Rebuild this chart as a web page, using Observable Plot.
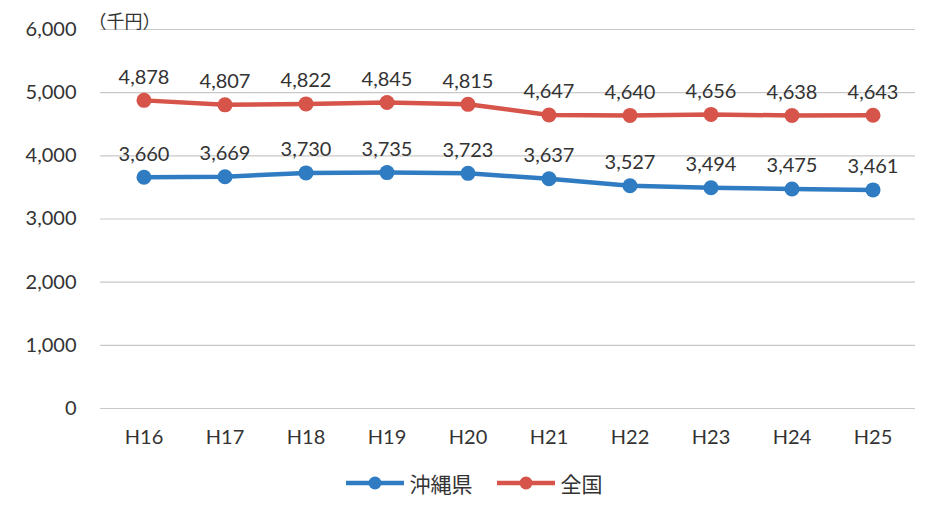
<!DOCTYPE html>
<html><head><meta charset="utf-8">
<script src="https://cdn.jsdelivr.net/npm/d3@7"></script>
<script src="https://cdn.jsdelivr.net/npm/@observablehq/plot@0.6"></script>
<style>
body{margin:0;background:#fff;font-family:Lato,"Noto Sans CJK JP",sans-serif;}
#legend{display:flex;justify-content:center;align-items:center;gap:24px;height:46px;font-family:"Noto Sans CJK JP",sans-serif;font-size:21px;color:#333;margin-left:20px;}
.item{display:flex;align-items:center;gap:6px;}
</style></head><body>
<div id="chart"></div>
<div id="legend"></div>
<script>
const years = ["H16","H17","H18","H19","H20","H21","H22","H23","H24","H25"];
const okinawa = [3660,3669,3730,3735,3723,3637,3527,3494,3475,3461];
const zenkoku = [4878,4807,4822,4845,4815,4647,4640,4656,4638,4643];
const seriesNames = ["沖縄県","全国"];
const seriesColors = ["#2f7cc2","#d6544a"];
const yTicks = [0,1000,2000,3000,4000,5000,6000];
const unitLabel = "（千円）";

const data = [];
years.forEach((y,i)=>{
  data.push({year:y, value:okinawa[i], series:seriesNames[0]});
  data.push({year:y, value:zenkoku[i], series:seriesNames[1]});
});

const chart = Plot.plot({
  width: 928, height: 460,
  marginLeft: 100, marginRight: 13, marginTop: 29, marginBottom: 52,
  style: {fontFamily: "Lato, 'Noto Sans CJK JP', sans-serif", fontSize: "20px", color: "#333", background: "#fff"},
  x: {type: "band", domain: years, padding: 0, label: null, tickSize: 0, tickPadding: 21},
  y: {domain: [0,6000], ticks: yTicks, tickFormat: d3.format(","), label: null, tickSize: 0, tickPadding: 24},
  color: {domain: seriesNames, range: seriesColors},
  marks: [
    Plot.ruleY(yTicks, {stroke: "#c8c8c8", strokeWidth: 1.2}),
    Plot.line(data, {x: "year", y: "value", z: "series", stroke: "series", strokeWidth: 4.5}),
    Plot.dot(data, {x: "year", y: "value", fill: "series", r: 7.5, stroke: null}),
    Plot.text(data, {x: "year", y: "value", text: d => d3.format(",")(d.value), dy: -23, fill: "#333", fontSize: 20}),
    Plot.text([unitLabel], {frameAnchor: "top-left", textAnchor: "start", dx: -12, dy: -14, fontSize: 18, fill: "#333", fontFamily: "'Noto Sans CJK JP', sans-serif"})
  ]
});
document.getElementById("chart").appendChild(chart);

const leg = document.getElementById("legend");
seriesNames.forEach((n,i)=>{
  const it = document.createElement("div"); it.className="item";
  it.innerHTML = `<svg width="58" height="16"><line x1="0" y1="8" x2="58" y2="8" stroke="${seriesColors[i]}" stroke-width="4.5"/><circle cx="29" cy="8" r="6.5" fill="${seriesColors[i]}"/></svg><span>${n}</span>`;
  leg.appendChild(it);
});
</script>
</body></html>
